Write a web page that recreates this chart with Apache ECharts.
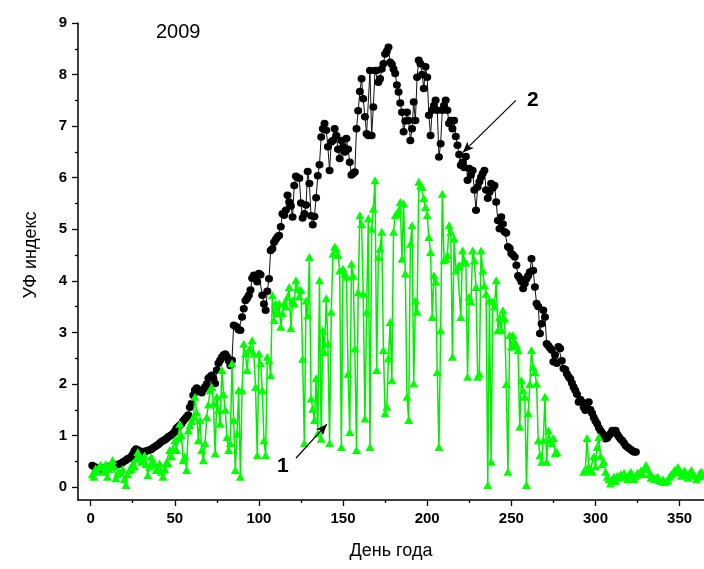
<!DOCTYPE html>
<html><head><meta charset="utf-8">
<script src="https://cdn.jsdelivr.net/npm/echarts@6/dist/echarts.min.js"></script>
<style>html,body{margin:0;padding:0;background:#fff}#c{width:704px;height:569px}</style>
</head><body><div id="c"></div>
<script>
// Series 2 (black circles): UV index, days 1..324
const blackStartDay = 1;
const blackValues = [
0.42,0.40,0.38,0.36,0.37,0.35,0.36,0.38,0.37,0.39,
0.40,0.41,0.40,0.42,0.43,0.44,0.45,0.46,0.48,0.50,
0.52,0.55,0.56,0.59,0.63,0.70,0.74,0.72,0.70,0.68,
0.69,0.68,0.70,0.71,0.72,0.73,0.76,0.78,0.80,0.82,
0.85,0.88,0.90,0.92,0.94,0.97,0.99,1.01,1.04,1.08,
1.14,1.17,1.20,1.23,1.28,1.32,1.36,1.40,1.55,1.62,
1.78,1.88,1.92,1.88,1.85,1.83,1.90,1.94,2.00,2.11,
2.14,2.17,2.10,2.01,2.27,2.40,2.46,2.52,2.56,2.58,
2.53,2.45,2.36,2.46,3.14,3.12,3.10,3.05,3.04,3.30,
3.46,3.62,3.66,3.72,3.82,4.05,4.11,4.10,3.98,4.14,
4.12,3.72,3.55,3.43,3.80,4.04,4.59,4.62,4.75,4.80,
4.85,4.88,5.05,5.30,5.27,5.37,5.66,5.53,5.45,5.24,
5.85,6.03,6.00,5.99,5.51,5.22,5.30,5.47,6.12,5.89,
5.26,5.09,5.25,5.61,6.04,6.25,6.79,6.95,7.05,6.92,
6.60,6.14,6.69,6.72,6.95,6.82,6.55,6.37,6.72,6.60,
6.50,6.76,6.55,6.30,6.05,6.08,6.11,6.95,7.30,7.67,
7.92,7.53,7.18,6.85,6.82,8.08,6.82,7.37,8.08,8.08,
7.85,7.92,8.11,8.21,8.40,8.45,8.53,8.24,8.20,8.11,
8.02,7.80,7.66,7.45,7.27,6.89,7.10,7.27,7.11,6.72,
6.95,7.47,7.11,7.95,8.28,8.21,8.00,7.73,8.15,7.95,
7.21,6.82,7.31,7.40,7.50,7.31,6.40,6.66,7.31,7.40,
7.50,7.31,7.05,7.11,6.95,7.11,6.80,6.63,6.45,6.24,
6.30,6.20,6.41,5.95,6.18,6.05,6.14,5.76,5.37,5.82,
5.92,6.01,6.08,6.14,5.76,5.60,5.72,5.89,5.80,5.85,
5.53,5.17,5.01,5.24,5.10,4.95,4.93,4.66,4.63,4.53,
4.50,4.46,4.30,4.10,4.05,3.98,3.85,3.95,4.04,4.10,
4.17,4.43,4.20,3.88,3.56,3.50,2.98,3.17,3.43,3.30,
2.78,2.74,2.70,2.66,2.43,2.56,2.40,2.72,2.69,2.45,
2.30,2.28,2.20,2.14,2.10,2.02,1.94,1.88,1.80,1.65,
1.70,1.65,1.55,1.49,1.62,1.65,1.50,1.43,1.35,1.28,
1.23,1.15,1.10,1.05,1.00,0.94,0.95,1.00,1.04,1.10,
1.08,1.10,1.02,0.97,0.93,0.90,0.85,0.80,0.78,0.75,
0.73,0.70,0.68,0.68
];
// Series 1 (green triangles): UV index, days 1..365, null = no data
const greenStartDay = 1;
const greenValues = [
0.25,0.20,0.36,0.30,0.40,0.43,0.38,0.30,0.45,0.20,
0.35,0.45,0.52,0.40,0.17,0.25,0.30,0.28,0.35,0.15,
0.04,0.25,0.33,0.35,0.46,0.40,0.55,0.68,0.60,0.49,
0.55,0.62,0.45,0.23,0.40,0.59,0.50,0.45,0.33,0.40,
0.46,0.30,0.20,0.35,0.48,0.46,0.72,0.60,0.75,0.91,
0.72,0.95,1.23,1.00,0.52,0.60,0.33,1.10,1.20,1.28,
1.36,1.75,1.45,0.91,1.30,0.72,0.52,0.85,1.36,1.60,
1.88,1.94,1.62,0.65,1.75,1.50,1.23,2.27,1.80,1.50,
0.97,0.72,0.85,2.40,1.30,0.33,1.04,1.88,0.20,1.88,
2.78,2.59,2.27,2.66,2.69,2.85,2.59,1.94,0.62,2.59,
2.40,1.88,0.91,0.62,2.53,2.46,2.17,3.72,3.24,3.56,
3.37,3.56,3.11,3.37,3.56,3.50,3.69,3.88,3.08,3.62,
3.56,4.01,3.85,3.70,3.82,2.49,0.85,3.62,3.33,4.46,
1.72,1.52,1.30,2.11,1.04,4.01,0.94,3.04,2.62,3.66,
2.78,0.85,3.40,4.53,4.66,4.62,4.50,4.20,0.78,4.24,
4.14,4.08,2.20,1.07,4.33,4.10,2.69,0.72,3.78,5.27,
5.10,3.75,1.33,3.40,5.21,0.78,5.01,5.40,5.95,2.27,
4.46,4.62,4.95,2.66,1.43,1.56,2.50,3.20,2.07,4.95,
5.27,5.30,5.37,5.53,4.43,5.50,4.14,1.75,1.30,4.72,
5.08,2.01,3.62,3.40,5.92,5.85,5.82,5.60,5.43,5.27,
4.85,4.56,3.30,4.11,3.98,2.23,0.78,3.04,5.69,4.40,
4.43,4.50,5.08,4.95,2.53,4.82,4.20,4.27,4.30,3.30,
4.59,4.40,4.35,2.14,3.69,3.60,4.59,4.40,3.88,2.14,
2.20,4.59,4.20,3.91,3.75,0.04,3.62,0.49,3.60,3.50,
4.01,3.04,3.30,3.04,3.43,3.27,2.00,0.30,2.95,2.72,
2.95,2.82,2.75,2.66,1.17,2.07,1.88,1.75,0.04,1.43,
2.00,2.66,2.33,2.23,2.01,0.91,0.62,0.49,0.91,1.75,
0.49,1.10,0.91,0.85,0.95,0.65,0.68,null,null,null,
null,null,null,null,null,null,null,null,null,null,
null,null,0.30,0.35,0.95,0.40,0.33,0.30,0.60,0.40,
0.78,0.97,0.60,0.45,0.49,0.30,0.20,0.15,0.07,0.15,
0.20,0.12,0.22,0.18,0.25,0.20,0.28,0.22,0.15,0.25,
0.30,0.20,0.15,0.22,0.28,0.25,0.32,0.26,0.35,0.43,
0.35,0.25,0.18,0.20,0.15,0.18,0.20,0.14,0.12,0.15,
0.10,0.12,0.13,0.20,0.25,0.28,0.33,0.30,0.39,0.30,
0.22,0.28,0.32,0.25,0.18,0.28,0.33,0.25,0.22,0.15,
0.20,0.28,0.30,0.22,0.25
];
const xMajorTicks = [0,50,100,150,200,250,300,350];
const xMinorTicks = [25,75,125,175,225,275,325];
const yMajorTicks = [0,1,2,3,4,5,6,7,8,9];
const yMinorTicks = [0.5,1.5,2.5,3.5,4.5,5.5,6.5,7.5,8.5];
const titleText = '2009';
const xTitle = 'День года';
const yTitle = 'УФ индекс';
// annotations in data coordinates: label, text position, arrow start, arrow end
const ann1 = {label:'1', text:[114.3,0.41], from:[122,0.56], to:[140.4,1.22]};
const ann2 = {label:'2', text:[262.8,7.5], from:[252.7,7.5], to:[221.2,6.49]};

const FONT = 'Arial, "Liberation Sans", sans-serif';
const blackData = blackValues.map((v,i)=>[blackStartDay+i, v]);
const greenData = greenValues.map((v,i)=>[greenStartDay+i, v]);

const chart = echarts.init(document.getElementById('c'), null, {renderer:'canvas'});
const X_MIN=-7.5, X_MAX=364.5, Y_MIN=-0.25, Y_MAX=9;
const axisLineStyle = {color:'#000', width:1.5};
function arrowLine(a){
  return [{coord:a.from, symbol:'none'},{coord:a.to, symbol:'arrow', symbolSize:[7,11]}];
}
chart.setOption({
  animation:false,
  backgroundColor:'#fff',
  grid:{left:78, right:0, top:23, bottom:69, containLabel:false},
  xAxis:[{
    type:'value', min:X_MIN, max:X_MAX, position:'bottom',
    axisLine:{show:true, onZero:false, lineStyle:axisLineStyle},
    axisTick:{show:true, length:6, inside:false, customValues:xMajorTicks, lineStyle:{color:'#000',width:1.3}},
    axisLabel:{show:true, customValues:xMajorTicks, margin:11, color:'#000', fontFamily:FONT, fontWeight:'bold', fontSize:15},
    splitLine:{show:false},
    name:xTitle, nameLocation:'middle', nameGap:42,
    nameTextStyle:{fontFamily:FONT, fontSize:18, color:'#000'}
  },{
    type:'value', min:X_MIN, max:X_MAX, position:'bottom',
    axisLine:{show:false, onZero:false},
    axisTick:{show:true, length:3, customValues:xMinorTicks, lineStyle:{color:'#000',width:1.3}},
    axisLabel:{show:false}, splitLine:{show:false}
  }],
  yAxis:[{
    type:'value', min:Y_MIN, max:Y_MAX, position:'left',
    axisLine:{show:true, onZero:false, lineStyle:axisLineStyle},
    axisTick:{show:true, length:6, customValues:yMajorTicks, lineStyle:{color:'#000',width:1.3}},
    axisLabel:{show:true, customValues:yMajorTicks, margin:11, color:'#000', fontFamily:FONT, fontWeight:'bold', fontSize:15},
    splitLine:{show:false}
  },{
    type:'value', min:Y_MIN, max:Y_MAX, position:'left',
    axisLine:{show:false, onZero:false},
    axisTick:{show:true, length:3, customValues:yMinorTicks, lineStyle:{color:'#000',width:1.3}},
    axisLabel:{show:false}, splitLine:{show:false}
  }],
  series:[{
    name:'2', type:'line', xAxisIndex:0, yAxisIndex:0, data:blackData,
    symbol:'circle', symbolSize:[8,7.5], showSymbol:true, showAllSymbol:true,
    itemStyle:{color:'#000'}, lineStyle:{color:'#111', width:1},
    z:2,
    markLine:{silent:true, symbol:['none','arrow'], label:{show:false},
      lineStyle:{color:'#000', width:1.2, type:'solid'},
      data:[arrowLine(ann1), arrowLine(ann2)]},
    markPoint:{silent:true, symbol:'circle', symbolSize:0,
      label:{show:true, position:'inside', color:'#000', fontFamily:FONT, fontWeight:'bold', fontSize:21,
        formatter:p=>p.name},
      data:[{name:ann1.label, coord:ann1.text},{name:ann2.label, coord:ann2.text}]}
  },{
    name:'1', type:'line', xAxisIndex:0, yAxisIndex:0, data:greenData,
    symbol:'triangle', symbolSize:[9,8], showSymbol:true, showAllSymbol:true,
    connectNulls:false,
    itemStyle:{color:'#00ff00'}, lineStyle:{color:'#00ee00', width:1.5},
    z:3
  }],
  graphic:[{
    type:'text', left:156, top:22,
    style:{text:titleText, font:'20px '+FONT, fill:'#000'}
  },{
    type:'text', x:31, y:255, rotation:Math.PI/2,
    style:{text:yTitle, font:'18px '+FONT, fill:'#000', align:'center', verticalAlign:'middle'}
  }]
});
</script></body></html>
